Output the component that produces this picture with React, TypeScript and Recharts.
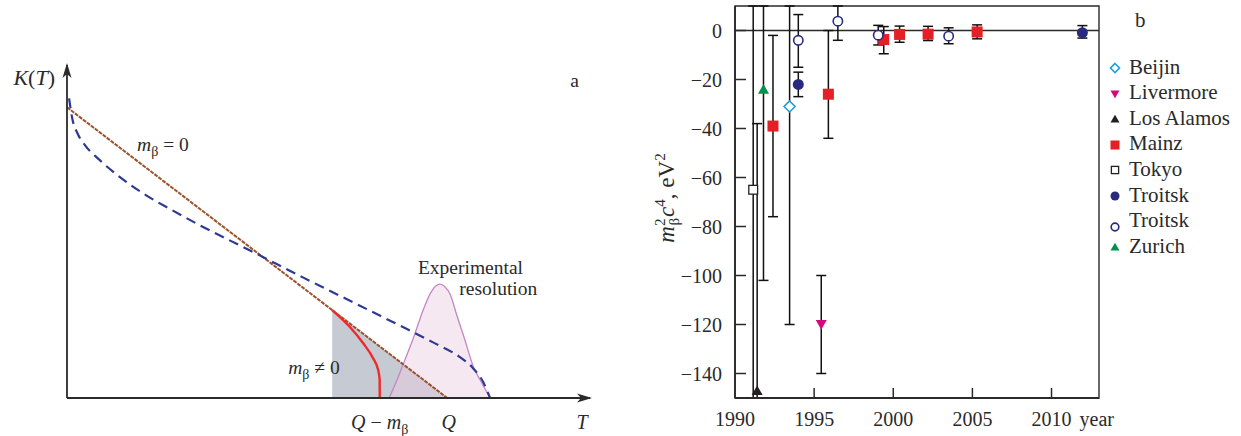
import React from "react";
import {
  ComposedChart,
  Line,
  Area,
  Scatter,
  ErrorBar,
  XAxis,
  YAxis,
  ReferenceLine,
  ReferenceArea,
  ReferenceDot,
  Legend,
} from "recharts";

const SERIF = '"Liberation Serif", "Times New Roman", serif';
const INK = "#2a2a2a";

// ---- panel a: schematic end of the beta spectrum (t, k as fractions of the axes)
const masslessEdge = [
  { t: 0, k: 0.873 },
  { t: 0.727, k: 0 },
];
const measuredShape = [
  { t: 0.004, k: 0.9 },
  { t: 0.01, k: 0.84 },
  { t: 0.02, k: 0.795 },
  { t: 0.035, k: 0.758 },
  { t: 0.06, k: 0.718 },
  { t: 0.1, k: 0.665 },
  { t: 0.15, k: 0.61 },
  { t: 0.2, k: 0.565 },
  { t: 0.25, k: 0.522 },
  { t: 0.3, k: 0.482 },
  { t: 0.35, k: 0.443 },
  { t: 0.4, k: 0.403 },
  { t: 0.45, k: 0.363 },
  { t: 0.5, k: 0.324 },
  { t: 0.55, k: 0.285 },
  { t: 0.6, k: 0.246 },
  { t: 0.65, k: 0.207 },
  { t: 0.7, k: 0.167 },
  { t: 0.75, k: 0.124 },
  { t: 0.775, k: 0.092 },
  { t: 0.795, k: 0.05 },
  { t: 0.809, k: 0 },
];
const massiveEdge = [
  { t: 0.507, k: 0.264 },
  { t: 0.541, k: 0.213 },
  { t: 0.566, k: 0.165 },
  { t: 0.585, k: 0.12 },
  { t: 0.595, k: 0.084 },
  { t: 0.5978, k: 0.055 },
  { t: 0.598, k: 0 },
];
const shadedTail = [
  { t: 0.507, k: 0.264 },
  { t: 0.727, k: 0 },
];
const resolutionPeak = [
  { t: 0.616, k: 0 },
  { t: 0.631, k: 0.054 },
  { t: 0.645, k: 0.11 },
  { t: 0.663, k: 0.183 },
  { t: 0.68, k: 0.26 },
  { t: 0.695, k: 0.315 },
  { t: 0.705, k: 0.336 },
  { t: 0.713, k: 0.342 },
  { t: 0.722, k: 0.335 },
  { t: 0.733, k: 0.31 },
  { t: 0.745, k: 0.25 },
  { t: 0.759, k: 0.183 },
  { t: 0.778, k: 0.09 },
  { t: 0.79, k: 0.054 },
  { t: 0.809, k: 0 },
];
const SPECTRUM_TICKS = [0.598, 0.73, 0.985];

// ---- panel b: measured m^2 per year (error bars read up to the frame)
const YEAR_TICKS = [1990, 1995, 2000, 2005, 2010];
const MASS_TICKS = [0, -20, -40, -60, -80, -100, -120, -140];

const beijin = [{ year: 1993.45, value: -31, err: [89, 41] }];
const livermore = [{ year: 1995.45, value: -120, err: [20, 20] }];
const losAlamos = [{ year: 1991.4, value: -147, err: [3, 109] }];
const mainz = [
  { year: 1992.4, value: -39, err: [37, 37] },
  { year: 1995.9, value: -26, err: [18, 26] },
  { year: 1999.4, value: -3.7, err: [5.8, 5.3] },
  { year: 2000.4, value: -1.6, err: [3.2, 3.4] },
  { year: 2002.2, value: -1.5, err: [2.6, 3.2] },
  { year: 2005.3, value: -0.6, err: [2.8, 2.9] },
];
const tokyo = [{ year: 1991.15, value: -65, err: [85, 75] }];
const troitskFilled = [
  { year: 1994.0, value: -22, err: [5, 5] },
  { year: 2011.95, value: -0.9, err: [2.2, 2.9] },
];
const troitskOpen = [
  { year: 1994.0, value: -4, err: [11, 10.5] },
  { year: 1996.5, value: 3.8, err: [7.8, 6.2] },
  { year: 1999.05, value: -1.9, err: [4, 4] },
  { year: 2003.5, value: -2.3, err: [3.1, 3.4] },
];
const zurich = [{ year: 1991.8, value: -24, err: [78, 34] }];

const SERIES = [
  { name: "Tokyo", kind: "openSquare", data: tokyo },
  { name: "Los Alamos", kind: "up", data: losAlamos },
  { name: "Zurich", kind: "green", data: zurich },
  { name: "Mainz", kind: "square", data: mainz },
  { name: "Beijin", kind: "diamond", data: beijin },
  { name: "Livermore", kind: "down", data: livermore },
  { name: "Troitsk", kind: "dot", data: troitskFilled },
  { name: "Troitsk", kind: "ring", data: troitskOpen },
];
const LEGEND_ORDER = [
  { name: "Beijin", kind: "diamond" },
  { name: "Livermore", kind: "down" },
  { name: "Los Alamos", kind: "up" },
  { name: "Mainz", kind: "square" },
  { name: "Tokyo", kind: "openSquare" },
  { name: "Troitsk", kind: "dot" },
  { name: "Troitsk", kind: "ring" },
  { name: "Zurich", kind: "green" },
];

function Marker({ kind, cx, cy, s = 1 }: { kind: string; cx: number; cy: number; s?: number }) {
  const r = 5.5 * s;
  switch (kind) {
    case "diamond":
      return (
        <path
          d={`M${cx},${cy - r}L${cx + r},${cy}L${cx},${cy + r}L${cx - r},${cy}Z`}
          fill="#fff"
          stroke="#1a9fd9"
          strokeWidth={1.6}
        />
      );
    case "down":
      return (
        <path
          d={`M${cx - r},${cy - r * 0.8}L${cx + r},${cy - r * 0.8}L${cx},${cy + r * 0.95}Z`}
          fill="#d4087f"
        />
      );
    case "up":
    case "green":
      return (
        <path
          d={`M${cx},${cy - r * 0.95}L${cx + r},${cy + r * 0.8}L${cx - r},${cy + r * 0.8}Z`}
          fill={kind === "up" ? "#231f20" : "#00924b"}
        />
      );
    case "square":
      return <rect x={cx - r} y={cy - r} width={2 * r} height={2 * r} fill="#e41f26" />;
    case "openSquare":
      return (
        <rect
          x={cx - r * 0.8}
          y={cy - r * 0.8}
          width={1.6 * r}
          height={1.6 * r}
          fill="#fff"
          stroke="#222"
          strokeWidth={1.3}
        />
      );
    case "dot":
      return <circle cx={cx} cy={cy} r={r} fill="#282a7e" />;
    default:
      return <circle cx={cx} cy={cy} r={r * 0.85} fill="#fff" stroke="#282a7e" strokeWidth={1.6} />;
  }
}

// ---- panel a pieces
function SpectrumTick({ x, y, index }: any) {
  const common = { y: y + 31, fontSize: 20, fontFamily: SERIF, fill: INK, textAnchor: "middle" as const };
  if (index === 0)
    return (
      <text x={x} {...common}>
        <tspan fontStyle="italic">Q</tspan>
        {" − "}
        <tspan fontStyle="italic">m</tspan>
        <tspan fontSize={14} dy={5}>β</tspan>
      </text>
    );
  if (index === 1)
    return (
      <text x={x} {...common}>
        <tspan fontStyle="italic">Q</tspan>
      </text>
    );
  return (
    <text x={x} {...common}>
      <tspan fontStyle="italic">T</tspan>
    </text>
  );
}

function KTick({ x, y }: any) {
  return (
    <text x={x - 12} y={y + 7} textAnchor="end" fontSize={22} fontFamily={SERIF} fill={INK}>
      <tspan fontStyle="italic">K</tspan>(<tspan fontStyle="italic">T</tspan>)
    </text>
  );
}

const note = (content: React.ReactNode) => (p: any) =>
  (
    <text x={p.cx} y={p.cy} fontSize={19.5} fontFamily={SERIF} fill={INK}>
      {content}
    </text>
  );

function SpectrumPanel() {
  return (
    <div style={{ position: "absolute", left: 0, top: 0 }}>
      <ComposedChart width={620} height={436} margin={{ top: 65, right: 30, bottom: 0, left: 0 }}>
        <XAxis
          type="number"
          dataKey="t"
          domain={[0, 1]}
          ticks={SPECTRUM_TICKS}
          interval={0}
          height={38}
          tickSize={0}
          tickMargin={0}
          tickLine={false}
          axisLine={{ stroke: INK, strokeWidth: 1.8 }}
          tick={SpectrumTick}
        />
        <YAxis
          type="number"
          dataKey="k"
          domain={[0, 1]}
          ticks={[0.96]}
          interval={0}
          width={67}
          tickSize={0}
          tickMargin={0}
          tickLine={false}
          axisLine={{ stroke: INK, strokeWidth: 1.8 }}
          tick={KTick}
        />
        <Area
          data={shadedTail}
          dataKey="k"
          type="linear"
          fill="#c6cad3"
          fillOpacity={1}
          stroke="none"
          isAnimationActive={false}
        />
        <Area
          data={resolutionPeak}
          dataKey="k"
          type="monotone"
          fill="#eccbe0"
          fillOpacity={0.45}
          stroke="#c586c6"
          strokeWidth={1.3}
          isAnimationActive={false}
        />
        <Line
          data={masslessEdge}
          dataKey="k"
          type="linear"
          stroke="#9c522a"
          strokeWidth={2}
          strokeDasharray="4 1"
          dot={false}
          isAnimationActive={false}
        />
        <Line
          data={measuredShape}
          dataKey="k"
          type="monotone"
          stroke="#2e3a92"
          strokeWidth={2.2}
          strokeDasharray="10 6"
          dot={false}
          isAnimationActive={false}
        />
        <Line
          data={massiveEdge}
          dataKey="k"
          type="monotone"
          stroke="#ee2a2a"
          strokeWidth={2.4}
          dot={false}
          isAnimationActive={false}
        />
        <ReferenceDot
          x={1}
          y={0}
          r={1}
          shape={(p: any) => (
            <path
              d={`M${p.cx + 2},${p.cy}L${p.cx - 13},${p.cy - 4.5}L${p.cx - 9},${p.cy}L${p.cx - 13},${p.cy + 4.5}Z`}
              fill={INK}
            />
          )}
        />
        <ReferenceDot
          x={0}
          y={1}
          r={1}
          shape={(p: any) => (
            <path
              d={`M${p.cx},${p.cy - 2}L${p.cx - 4.5},${p.cy + 13}L${p.cx},${p.cy + 9}L${p.cx + 4.5},${p.cy + 13}Z`}
              fill={INK}
            />
          )}
        />
        <ReferenceDot
          x={0.134}
          y={0.742}
          r={1}
          shape={note(
            <>
              <tspan fontStyle="italic">m</tspan>
              <tspan fontSize={14} dy={5}>β</tspan>
              <tspan dy={-5}> = 0</tspan>
            </>
          )}
        />
        <ReferenceDot
          x={0.423}
          y={0.072}
          r={1}
          shape={note(
            <>
              <tspan fontStyle="italic">m</tspan>
              <tspan fontSize={14} dy={5}>β</tspan>
              <tspan dy={-5}> ≠ 0</tspan>
            </>
          )}
        />
        <ReferenceDot x={0.671} y={0.372} r={1} shape={note("Experimental")} />
        <ReferenceDot x={0.75} y={0.31} r={1} shape={note("resolution")} />
        <ReferenceDot x={0.962} y={0.935} r={1} shape={note("a")} />
      </ComposedChart>
    </div>
  );
}

// ---- panel b pieces
function YearTick({ x, y, payload }: any) {
  const v = payload.value;
  return (
    <g>
      {v > 1990 && <line x1={x} y1={y} x2={x} y2={y - 10} stroke={INK} strokeWidth={1.5} />}
      <text x={x} y={y + 28} textAnchor="middle" fontSize={20} fontFamily={SERIF} fill={INK}>
        {v}
      </text>
      {v === 2010 && (
        <text x={x + 28} y={y + 28} fontSize={20} fontFamily={SERIF} fill={INK}>
          year
        </text>
      )}
    </g>
  );
}

function MassTick({ x, y, payload }: any) {
  const v = payload.value;
  return (
    <g>
      <line x1={x} y1={y} x2={x + 11} y2={y} stroke={INK} strokeWidth={1.5} />
      <text x={x - 13} y={y + 7} textAnchor="end" fontSize={20} fontFamily={SERIF} fill={INK}>
        {v < 0 ? `−${-v}` : v}
      </text>
    </g>
  );
}

function MassLabel(props: any) {
  const vb = props.viewBox || { x: 20, y: 6, width: 75, height: 392 };
  const cx = vb.x + 14;
  const cy = vb.y + vb.height / 2 - 4;
  return (
    <text
      x={cx}
      y={cy}
      transform={`rotate(-90, ${cx}, ${cy})`}
      textAnchor="middle"
      fontSize={23}
      fontFamily={SERIF}
      fill={INK}
    >
      <tspan fontStyle="italic">m</tspan>
      <tspan fontSize={15} dy={-9}>2</tspan>
      <tspan fontSize={15} dx={-7} dy={14}>β</tspan>
      <tspan fontStyle="italic" dx={1} dy={-5}>c</tspan>
      <tspan fontSize={15} dy={-9}>4</tspan>
      <tspan dy={9}>, eV</tspan>
      <tspan fontSize={15} dy={-9}>2</tspan>
    </text>
  );
}

function LegendBox() {
  return (
    <div style={{ position: "relative", width: 141, height: 270, fontFamily: SERIF, fontSize: 21, color: INK }}>
      <div style={{ position: "absolute", left: 35, top: 8 }}>b</div>
      {LEGEND_ORDER.map((row, i) => (
        <div
          key={i}
          style={{
            position: "absolute",
            left: 0,
            top: 54 + i * 25.6,
            height: 26,
            display: "flex",
            alignItems: "center",
            whiteSpace: "nowrap",
          }}
        >
          <svg width={26} height={26}>
            <Marker kind={row.kind} cx={15} cy={row.kind === "ring" ? 19 : 14} s={0.82} />
          </svg>
          <span style={{ marginLeft: 3 }}>{row.name}</span>
        </div>
      ))}
    </div>
  );
}

function HistoryPanel() {
  return (
    <div style={{ position: "absolute", left: 640, top: 0 }}>
      <ComposedChart width={601} height={436} margin={{ top: 6, right: 142, bottom: 0, left: 20 }}>
        <XAxis
          type="number"
          dataKey="year"
          domain={[1990, 2013]}
          ticks={YEAR_TICKS}
          interval={0}
          allowDataOverflow
          height={38}
          tickSize={0}
          tickMargin={0}
          tickLine={false}
          axisLine={{ stroke: INK, strokeWidth: 1.8 }}
          tick={YearTick}
        />
        <YAxis
          type="number"
          dataKey="value"
          domain={[-150, 10]}
          ticks={MASS_TICKS}
          interval={0}
          allowDataOverflow
          width={75}
          tickSize={0}
          tickMargin={0}
          tickLine={false}
          axisLine={{ stroke: INK, strokeWidth: 1.8 }}
          tick={MassTick}
          label={(p: any) => <MassLabel {...p} />}
        />
        <ReferenceArea x1={1990} x2={2013} y1={-150} y2={10} fill="none" stroke={INK} strokeWidth={1.4} />
        <ReferenceLine y={0} stroke={INK} strokeWidth={1.3} />
        {SERIES.map((s, i) => (
          <Scatter
            key={i}
            name={s.name}
            data={s.data}
            isAnimationActive={false}
            shape={(p: any) => <Marker kind={s.kind} cx={p.cx} cy={p.cy} />}
          >
            <ErrorBar dataKey="err" direction="y" width={5} stroke="#111" strokeWidth={1.5} isAnimationActive={false} />
          </Scatter>
        ))}
        <Legend
          layout="horizontal"
          verticalAlign="middle"
          align="center"
          content={() => <LegendBox />}
          wrapperStyle={{ left: 460, top: 0, width: 141, height: 270 }}
        />
      </ComposedChart>
    </div>
  );
}

export default function App() {
  return (
    <div style={{ position: "absolute", left: 0, top: 0, width: 1241, height: 436, background: "#fff" }}>
      <SpectrumPanel />
      <HistoryPanel />
    </div>
  );
}
